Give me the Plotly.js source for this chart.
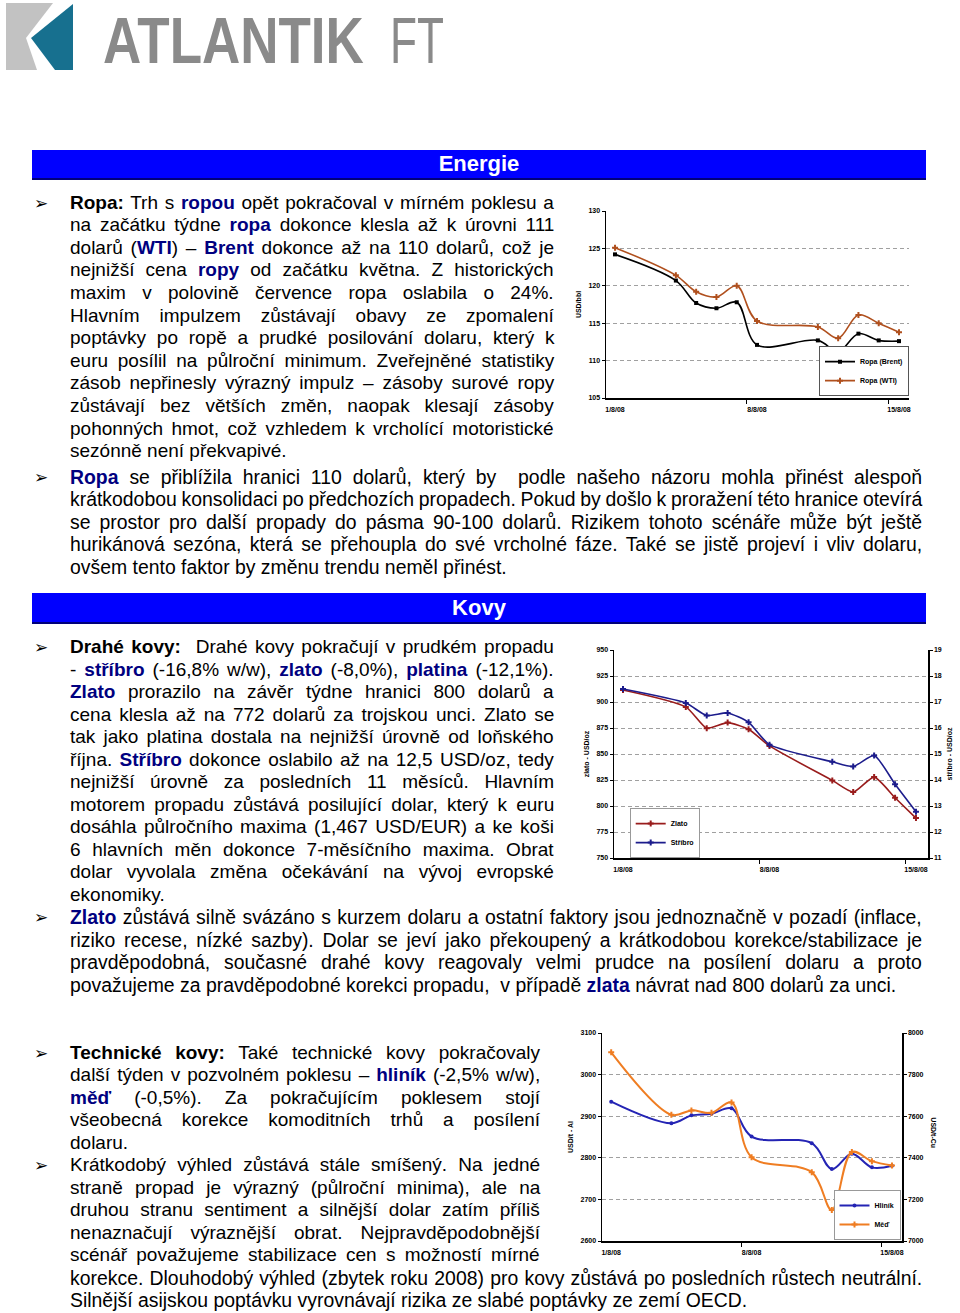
<!DOCTYPE html>
<html><head><meta charset="utf-8">
<script src="https://cdn.plot.ly/plotly-3.0.1.min.js"></script>
<style>
html,body{margin:0;padding:0;background:#fff;}
body{width:960px;height:1313px;position:relative;overflow:hidden;font-family:"Liberation Sans",Arial,sans-serif;color:#000;}
.ln{position:absolute;height:22px;line-height:22px;font-size:19px;white-space:nowrap;}
.nr{font-size:20px;transform:scaleX(0.97);transform-origin:0 50%;}
.n{color:#000080;font-weight:bold;}
.bul{position:absolute;left:34px;font-family:"DejaVu Sans";font-size:17px;line-height:22px;height:22px;}
.bar{position:absolute;left:32px;width:894px;background:#0000ff;border-bottom:2px solid #00007a;color:#fff;font-weight:bold;font-size:22px;text-align:center;box-sizing:border-box;}
.chart{position:absolute;}
</style></head>
<body>
<svg style="position:absolute;left:0;top:0" width="470" height="80">
  <rect x="6" y="3" width="67" height="67" fill="#c2c2c2"/>
  <polygon points="53,3 73,3 73,70 37,70 26,38" fill="#ffffff"/>
  <polygon points="73,4 73,70 55,70 31,38" fill="#17708f"/>
  <g transform="translate(103,63) scale(0.815,1)"><text x="0" y="0" font-family="Liberation Sans" font-weight="bold" font-size="65" fill="#8a8a8a">ATLANTIK</text></g>
  <g transform="translate(390,63) scale(0.68,1)"><text x="0" y="0" font-family="Liberation Sans" font-size="65" fill="#8a8a8a">FT</text></g>
</svg>

<div class="bar" style="top:150px;height:30px;line-height:28px;">Energie</div>
<div class="bar" style="top:593px;height:31px;line-height:29px;">Kovy</div>

<div id="txt"></div>

<div id="c1" class="chart" style="left:570px;top:195px;width:360px;height:225px;"></div>
<div id="c2" class="chart" style="left:570px;top:635px;width:390px;height:245px;"></div>
<div id="c3" class="chart" style="left:555px;top:1020px;width:390px;height:245px;"></div>

<script>
// ---- data ----
const dates = ['2008-08-01','2008-08-04','2008-08-05','2008-08-06','2008-08-07','2008-08-08','2008-08-11','2008-08-12','2008-08-13','2008-08-14','2008-08-15'];
const tickDates = ['2008-08-01','2008-08-08','2008-08-15'];
const tickLabels = ['1/8/08','8/8/08','15/8/08'];
const brent = [124.2,120.7,117.7,117.0,117.8,112.1,112.7,111.2,113.6,112.7,112.6];
const wti = [125.1,121.4,119.2,118.5,120.0,115.3,114.5,113.0,116.1,115.0,113.8];
const zlato = [911.6,895.3,874.8,880.2,873.8,857.8,824.6,813.4,827.8,807.9,788.4];
const stribro = [17.50,16.96,16.48,16.58,16.22,15.36,14.70,14.52,14.94,13.84,12.78];
const hlinik = [2935,2883,2902,2906,2919,2851,2835,2773,2810,2777,2781];
const med = [7907,7607,7628,7616,7666,7403,7331,7149,7428,7384,7363];

// ---- text lines: [y, left, width, html, flags] ----
const lines = [
 [203,70,484,'<b>Ropa:</b> Trh s <span class="n">ropou</span> opět pokračoval v mírném poklesu a',''],
 [225,70,484,'na začátku týdne <span class="n">ropa</span> dokonce klesla až k úrovni 111',''],
 [248,70,484,'dolarů (<span class="n">WTI</span>) – <span class="n">Brent</span> dokonce až na 110 dolarů, což je',''],
 [270,70,484,'nejnižší cena <span class="n">ropy</span> od začátku května. Z historických',''],
 [293,70,484,'maxim v polovině července ropa oslabila o 24%.',''],
 [316,70,484,'Hlavním impulzem zůstávají obavy ze zpomalení',''],
 [338,70,484,'poptávky po ropě a prudké posilování dolaru, který k',''],
 [361,70,484,'euru posílil na půlroční minimum. Zveřejněné statistiky',''],
 [383,70,484,'zásob nepřinesly výrazný impulz – zásoby surové ropy',''],
 [406,70,484,'zůstávají bez větších změn, naopak klesají zásoby',''],
 [429,70,484,'pohonných hmot, což vzhledem k vrcholící motoristické',''],
 [451,70,484,'sezónně není překvapivé.','last'],
 [477,70,852,'<span class="n">Ropa</span> se přiblížila hranici 110 dolarů, který by&nbsp; podle našeho názoru mohla přinést alespoň','nr'],
 [499,70,852,'krátkodobou konsolidaci po předchozích propadech. Pokud by došlo k proražení této hranice otevírá','nr'],
 [522,70,852,'se prostor pro další propady do pásma 90-100 dolarů. Rizikem tohoto scénáře může být ještě','nr'],
 [544,70,852,'hurikánová sezóna, která se přehoupla do své vrcholné fáze. Také se jistě projeví i vliv dolaru,','nr'],
 [567,70,852,'ovšem tento faktor by změnu trendu neměl přinést.','nr last'],
 [647,70,484,'<b>Drahé kovy:</b>&nbsp; Drahé kovy pokračují v prudkém propadu',''],
 [670,70,484,'- <span class="n">stříbro</span> (-16,8% w/w), <span class="n">zlato</span> (-8,0%), <span class="n">platina</span> (-12,1%).',''],
 [692,70,484,'<span class="n">Zlato</span> prorazilo na závěr týdne hranici 800 dolarů a',''],
 [715,70,484,'cena klesla až na 772 dolarů za trojskou unci. Zlato se',''],
 [737,70,484,'tak jako platina dostala na nejnižší úrovně od loňského',''],
 [760,70,484,'října. <span class="n">Stříbro</span> dokonce oslabilo až na 12,5 USD/oz, tedy',''],
 [782,70,484,'nejnižší úrovně za posledních 11 měsíců. Hlavním',''],
 [805,70,484,'motorem propadu zůstává posilující dolar, který k euru',''],
 [827,70,484,'dosáhla půlročního maxima (1,467 USD/EUR) a ke koši',''],
 [850,70,484,'6 hlavních měn dokonce 7-měsíčního maxima. Obrat',''],
 [872,70,484,'dolar vyvolala změna očekávání na vývoj evropské',''],
 [895,70,484,'ekonomiky.','last'],
 [917,70,852,'<span class="n">Zlato</span> zůstává silně svázáno s kurzem dolaru a ostatní faktory jsou jednoznačně v pozadí (inflace,','nr'],
 [940,70,852,'riziko recese, nízké sazby). Dolar se jeví jako překoupený a krátkodobou korekce/stabilizace je','nr'],
 [962,70,852,'pravděpodobná, současné drahé kovy reagovaly velmi prudce na posílení dolaru a proto','nr'],
 [985,70,852,'považujeme za pravděpodobné korekci propadu,&nbsp; v případě <span class="n">zlata</span> návrat nad 800 dolarů za unci.','nr last'],
 [1053,70,470,'<b>Technické kovy:</b> Také technické kovy pokračovaly',''],
 [1075,70,470,'další týden v pozvolném poklesu – <span class="n">hliník</span> (-2,5% w/w),',''],
 [1098,70,470,'<span class="n">měď</span> (-0,5%). Za pokračujícím poklesem stojí',''],
 [1120,70,470,'všeobecná korekce komoditních trhů a posílení',''],
 [1143,70,470,'dolaru.','last'],
 [1165,70,470,'Krátkodobý výhled zůstává stále smíšený. Na jedné',''],
 [1188,70,470,'straně propad je výrazný (půlroční minima), ale na',''],
 [1210,70,470,'druhou stranu sentiment a silnější dolar zatím příliš',''],
 [1233,70,470,'nenaznačují výraznější obrat. Nejpravděpodobnější',''],
 [1255,70,470,'scénář považujeme stabilizace cen s možností mírné',''],
 [1278,70,852,'korekce. Dlouhodobý výhled (zbytek roku 2008) pro kovy zůstává po posledních růstech neutrální.','nr'],
 [1300,70,852,'Silnější asijskou poptávku vyrovnávají rizika ze slabé poptávky ze zemí OECD.','nr last']
];
const bullets = [203,477,647,917,1053,1165];
const NARROW = 0.97;

const txt = document.getElementById('txt');
lines.forEach(l => {
  const div = document.createElement('div');
  div.className = 'ln ' + l[4];
  div.style.top = (l[0] - 11) + 'px';
  div.style.left = l[1] + 'px';
  const sp = document.createElement('span');
  sp.innerHTML = l[3];
  div.appendChild(sp);
  txt.appendChild(div);
  if (l[4].indexOf('last') < 0) {
    const s = l[4].indexOf('nr') >= 0 ? NARROW : 1;
    const W = sp.offsetWidth;
    const n = (sp.textContent.match(/[ \u00a0]/g) || []).length;
    if (n > 0) sp.style.wordSpacing = ((l[2] / s - W) / n).toFixed(2) + 'px';
  }
});
bullets.forEach(y => {
  const b = document.createElement('div');
  b.className = 'bul'; b.style.top = (y - 11) + 'px'; b.textContent = '➢';
  txt.appendChild(b);
});

// ---- charts ----
const F = 'Liberation Sans, Arial, sans-serif';
const tf = {family:F, size:7, color:'#000', weight:'bold'};
const DAY = 86400000;
function xax(range){
  return {type:'date', range:range, tickvals:tickDates, ticktext:tickLabels,
    ticks:'outside', ticklen:4, tickcolor:'rgba(0,0,0,0)', showgrid:false, showline:true,
    linecolor:'#000', linewidth:1.5, tickfont:tf, zeroline:false, fixedrange:true,
    minor:{ticks:'outside', ticklen:4, tickcolor:'#000', tickwidth:1, tick0:'2008-07-31 12:00', dtick:7*DAY, showgrid:false}};
}
function yax(range, dtick, title){
  return {range:range, dtick:dtick, tick0:range[0], ticks:'outside', ticklen:3, tickcolor:'#000',
    showline:true, linecolor:'#000', linewidth:1.5, showgrid:true, gridcolor:'#a0a0a0', griddash:'4px,3px',
    gridwidth:1, zeroline:false, tickfont:tf, fixedrange:true,
    title:{text:title, font:tf, standoff:6}};
}
const cfg = {displayModeBar:false, staticPlot:true};
const base = {paper_bgcolor:'rgba(0,0,0,0)', plot_bgcolor:'rgba(0,0,0,0)', font:{family:F,size:7}};

Plotly.newPlot('c1', [
  {x:dates, y:brent, name:'Ropa (Brent)', mode:'lines+markers', line:{color:'#000000', width:1.6, shape:'spline', smoothing:1}, marker:{symbol:'square', size:4, color:'#000'}},
  {x:dates, y:wti, name:'Ropa (WTI)', mode:'lines+markers', line:{color:'#b0501e', width:1.6, shape:'spline', smoothing:1}, marker:{symbol:'cross', size:5, color:'#b0501e'}}
], Object.assign({}, base, {
  width:360, height:225, margin:{l:36, r:21, t:16, b:22},
  xaxis:xax(['2008-07-31 13:20','2008-08-15 11:50']),
  yaxis:yax([105,130],5,'USD/bbl'),
  showlegend:true,
  legend:{x:1, xanchor:'right', y:0.01, yanchor:'bottom', bgcolor:'#ffffff', bordercolor:'#555', borderwidth:1, font:tf, tracegroupgap:0, itemwidth:30}
}), cfg);

Plotly.newPlot('c2', [
  {x:dates, y:zlato, name:'Zlato', mode:'lines+markers', line:{color:'#991c1c', width:1.6, shape:'spline', smoothing:0.6}, marker:{symbol:'cross', size:5, color:'#991c1c'}},
  {x:dates, y:stribro, name:'Stříbro', yaxis:'y2', mode:'lines+markers', line:{color:'#1c1c8c', width:1.6, shape:'spline', smoothing:0.6}, marker:{symbol:'cross', size:5, color:'#1c1c8c'}}
], Object.assign({}, base, {
  width:390, height:245, margin:{l:44, r:32, t:15, b:22},
  xaxis:xax(['2008-07-31 13:40','2008-08-15 13:47']),
  yaxis:yax([750,950],25,'zlato - USD/oz'),
  yaxis2:Object.assign(yax([11,19],1,'stříbro - USD/oz'), {overlaying:'y', side:'right', showgrid:false}),
  showlegend:true,
  legend:{x:0.05, xanchor:'left', y:0.24, yanchor:'top', bgcolor:'#ffffff', bordercolor:'#999', borderwidth:1, font:tf, tracegroupgap:0, itemwidth:30}
}), cfg);

Plotly.newPlot('c3', [
  {x:dates, y:hlinik, name:'Hliník', mode:'lines+markers', line:{color:'#2424b4', width:2, shape:'spline', smoothing:1}, marker:{symbol:'circle', size:4, color:'#2424b4'}},
  {x:dates, y:med, name:'Měď', yaxis:'y2', mode:'lines+markers', line:{color:'#ef7d22', width:2, shape:'spline', smoothing:1}, marker:{symbol:'cross', size:5, color:'#ef7d22'}}
], Object.assign({}, base, {
  width:390, height:245, margin:{l:47, r:43, t:13, b:24},
  xaxis:xax(['2008-07-31 13:00','2008-08-15 12:00']),
  yaxis:yax([2600,3100],100,'USD/t - Al'),
  yaxis2:Object.assign(yax([7000,8000],200,''), {overlaying:'y', side:'right', showgrid:false}),
  annotations:[{text:'USD/t-Cu', textangle:90, xref:'paper', yref:'paper', x:1.105, y:0.52, showarrow:false, font:tf, xanchor:'center', yanchor:'middle'}],
  showlegend:true,
  legend:{x:0.995, xanchor:'right', y:0.005, yanchor:'bottom', bgcolor:'#ffffff', bordercolor:'#999', borderwidth:1, font:tf, tracegroupgap:0, itemwidth:30}
}), cfg);
</script>
</body></html>
